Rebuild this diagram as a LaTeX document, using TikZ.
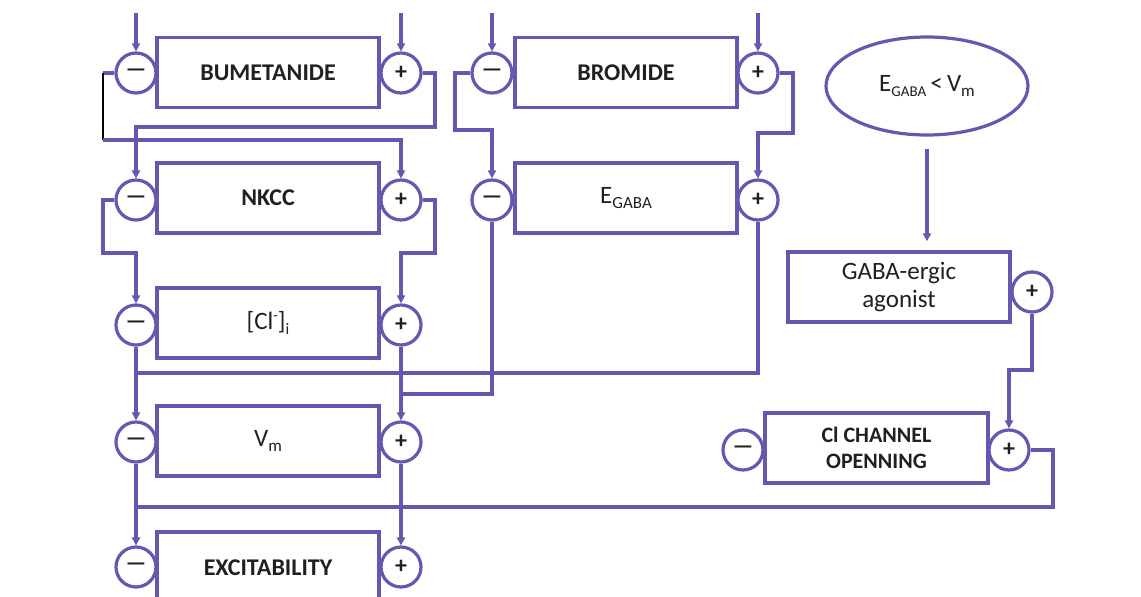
\documentclass[tikz,border=0pt]{standalone}
\usepackage{fontspec}
\setmainfont{Carlito}
\usetikzlibrary{arrows.meta,shapes.geometric}
\definecolor{lc}{RGB}{100,88,176}
\definecolor{tc}{RGB}{35,31,32}
\newcommand{\mysub}[2]{\raisebox{-0.35ex}{\fontsize{#1}{#1}\selectfont #2}}
\newcommand{\mysup}[2]{\raisebox{0.75ex}{\fontsize{#1}{#1}\selectfont #2}}
\newcommand{\mn}{{\fontsize{23}{23}\selectfont\bfseries —}}
\newcommand{\pl}{{\fontsize{24}{24}\selectfont\bfseries +}}
\begin{document}
\begin{tikzpicture}[x=1pt,y=-1pt,line join=miter,
 box/.style={draw=lc,line width=3.4pt,fill=white,minimum width=222pt,minimum height=70pt,inner sep=0pt,align=center,text=tc,font=\fontsize{24}{28}\selectfont\bfseries},
 rbox/.style={box,font=\fontsize{25}{28}\selectfont},
 sgn/.style={circle,draw=lc,line width=3.2pt,fill=white,minimum size=40pt,inner sep=0pt,text=tc},
 ln/.style={draw=lc,line width=3.2pt},
 arr/.style={ln,-{Triangle[length=8pt,width=8pt]}},
]
\useasboundingbox (0,0) rectangle (1141,597);
\fill[white] (0,0) rectangle (1141,597);
\begin{scope}
\clip (0,0) rectangle (1141,597);
% left column
\node[box] (bum) at (268,72.5) {BUMETANIDE};
\node[sgn] (m1) at (136,73) {\mn};
\node[sgn] (p1) at (401,73) {\pl};
\node[box] (nk) at (268,198) {NKCC};
\node[sgn] (m2) at (136,200) {\mn};
\node[sgn] (p2) at (401,200) {\pl};
\node[rbox] (cl) at (268,323) {[Cl\mysup{15}{-}]\mysub{16}{i}};
\node[sgn] (m3) at (136,325) {\mn};
\node[sgn] (p3) at (401,325) {\pl};
\node[rbox] (vm) at (268,441) {V\mysub{17}{m}};
\node[sgn] (m4) at (136,442) {\mn};
\node[sgn] (p4) at (401,442) {\pl};
\node[box,minimum height=72pt] (ex) at (268,568) {EXCITABILITY};
\node[sgn] (m5) at (136,567) {\mn};
\node[sgn] (p5) at (401,567) {\pl};
% middle column
\node[box] (br) at (626,72.5) {BROMIDE};
\node[sgn] (mB) at (492,73) {\mn};
\node[sgn] (pB) at (758,73) {\pl};
\node[rbox] (eg) at (626,198) {E\mysub{17}{GABA}};
\node[sgn] (mE) at (492,200) {\mn};
\node[sgn] (pE) at (758,200) {\pl};
% right column
\node[ellipse,draw=lc,line width=3.2pt,fill=white,minimum width=202pt,minimum height=98pt,inner sep=0pt,text=tc,font=\fontsize{25}{28}\selectfont] (ell) at (927,86) {E\mysub{15}{GABA}\,<\,V\mysub{17}{m}};
\node[rbox] (ag) at (899,287) {GABA-ergic\\agonist};
\node[sgn] (pA) at (1032,292) {\pl};
\node[box,minimum width=223pt,font=\fontsize{22}{26}\selectfont\bfseries] (cc) at (876.5,448) {Cl CHANNEL\\OPENNING};
\node[sgn] (mC) at (743,450) {\mn};
\node[sgn] (pC) at (1009,450) {\pl};
% inputs from top
\coordinate (t1) at (136,13);
\coordinate (t2) at (401,13);
\coordinate (t3) at (492,13);
\coordinate (t4) at (758,13);
\draw[arr] (t1) -- (m1);
\draw[arr] (t2) -- (p1);
\draw[arr] (t3) -- (mB);
\draw[arr] (t4) -- (pB);
% bumetanide -> nkcc (crossed)
\coordinate (a1) at (103,73);
\coordinate (a2) at (103,140);
\draw[ln] (m1.west) -- (a1);
\draw[black,line width=2pt] (a1) -- (a2);
\draw[arr] (a2) -- (401,140) -- (p2);
\draw[arr] (p1.east) -- (435,73) -- (435,127) -- (136,127) -- (m2);
% nkcc -> cl
\draw[arr] (m2.west) -- (103,200) -- (103,253) -- (136,253) -- (m3);
\draw[arr] (p2.east) -- (435,200) -- (435,253) -- (401,253) -- (p3);
% cl -> vm
\draw[arr] (m3) -- (m4);
\draw[arr] (p3) -- (p4);
% egaba feeds
\draw[ln] (pE) -- (758,373) -- (136,373);
\draw[ln] (mE) -- (492,394) -- (401,394);
% vm -> excitability
\draw[arr] (m4) -- (m5);
\draw[arr] (p4) -- (p5);
% bromide -> egaba
\draw[arr] (mB.west) -- (455,73) -- (455,130) -- (492,130) -- (mE);
\draw[arr] (pB.east) -- (793,73) -- (793,133) -- (758,133) -- (pE);
% right branch
\draw[arr,shorten <=12pt,shorten >=9pt] (ell) -- (ell.south |- ag.north);
\draw[arr] (pA) -- (1032,370) -- (1009,370) -- (pC);
\draw[ln] (pC.east) -- (1053,450) -- (1053,507) -- (136,507);
\end{scope}
\end{tikzpicture}
\end{document}
